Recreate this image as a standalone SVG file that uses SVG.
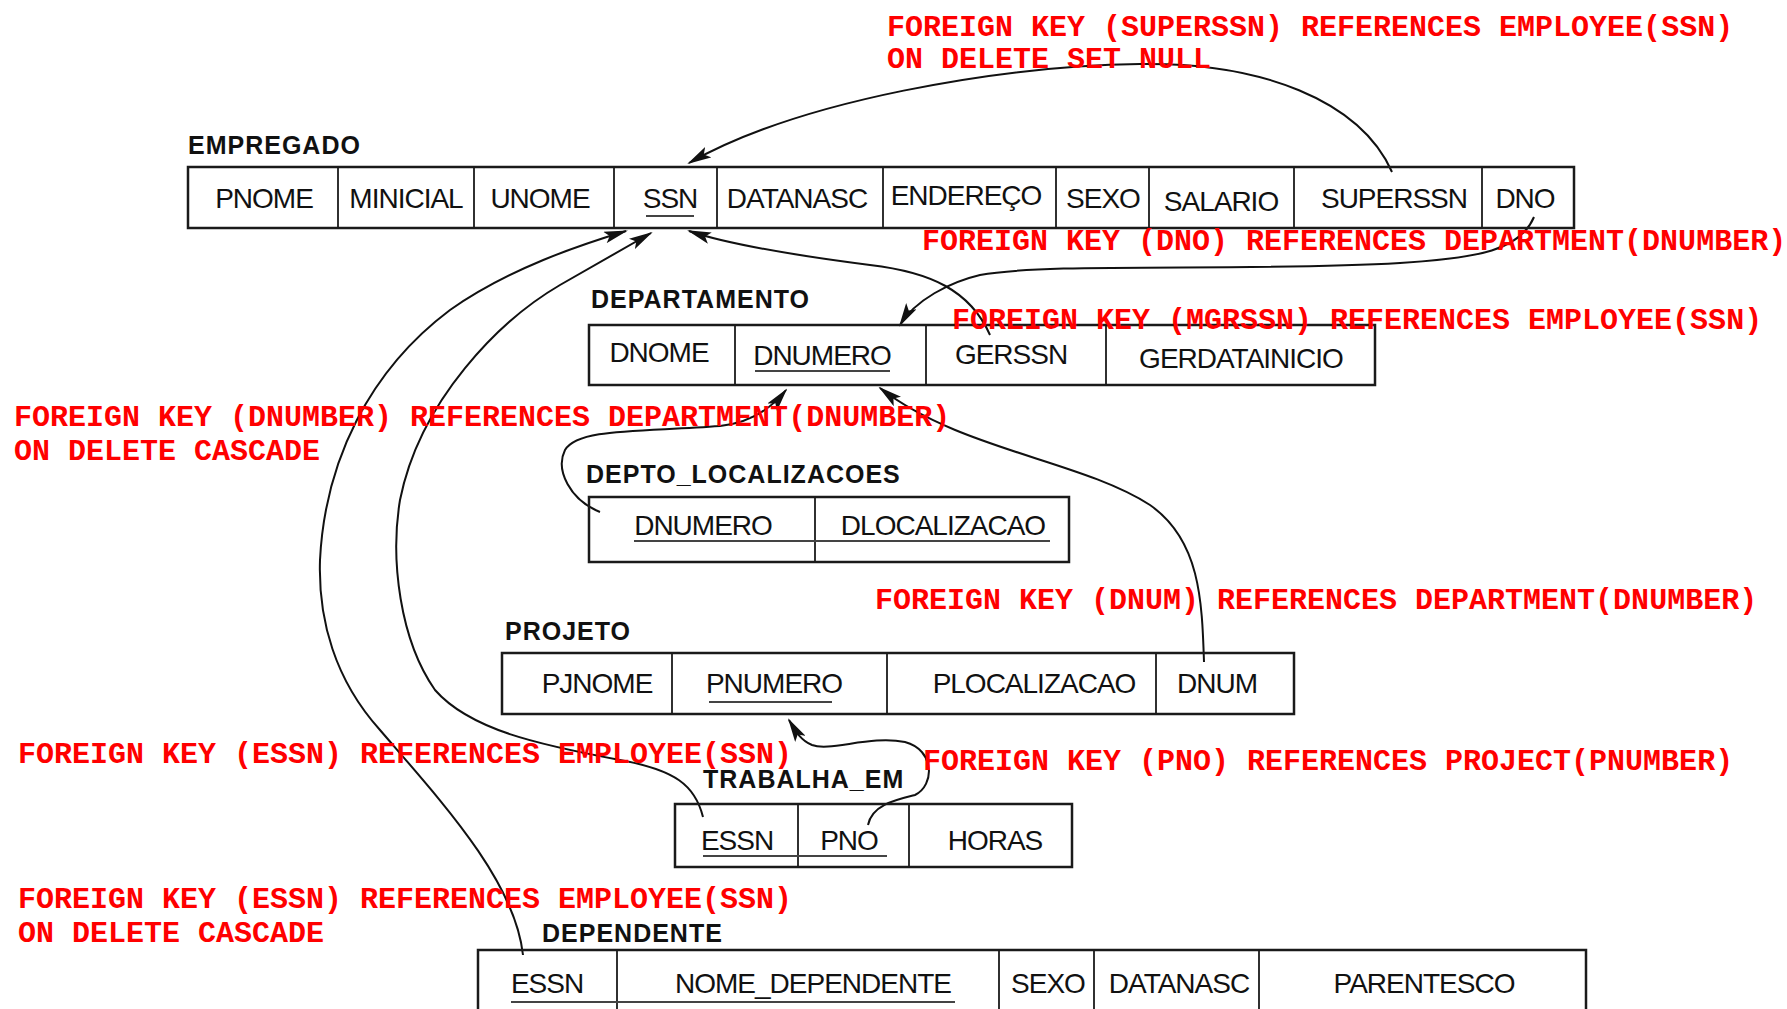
<svg xmlns="http://www.w3.org/2000/svg" width="1787" height="1009" viewBox="0 0 1787 1009">
<style>
.tb{fill:#fff;stroke:#1a1a1a;stroke-width:2.5}
.dv{stroke:#1a1a1a;stroke-width:1.8}
.ct{font-family:"Liberation Sans",Arial,sans-serif;font-size:28px;letter-spacing:-1px;fill:#111;text-anchor:middle}
.lb{font-family:"Liberation Sans",Arial,sans-serif;font-size:25px;font-weight:bold;letter-spacing:1px;fill:#111}
.ul{stroke:#444;stroke-width:2}
.fk{font-family:"Liberation Mono","Courier New",monospace;font-size:30px;font-weight:bold;fill:#ff0000}
.cn{fill:none;stroke:#111;stroke-width:2}
</style>
<defs>
<marker id="ah" markerWidth="24" markerHeight="12" refX="22" refY="6" orient="auto" markerUnits="userSpaceOnUse">
<path d="M0,0 L24,6 L0,12 L5,6 z" fill="#111"/>
</marker>
</defs>
<rect width="1787" height="1009" fill="#fff"/>

<g id="connectors">
<path class="cn" marker-end="url(#ah)" d="M1392,172 C1360,100 1260,62 1140,64 C1000,66 800,100 689,163"/>
<path class="cn" marker-end="url(#ah)" d="M1534,217 C1520,250 1480,258 1400,263 C1250,272 1050,262 980,275 C950,282 915,300 900,325"/>
<path class="cn" marker-end="url(#ah)" d="M990,335 C970,290 930,272 870,265 C800,256 730,245 689,231"/>
<path class="cn" marker-end="url(#ah)" d="M600,512 C570,500 555,470 565,450 C578,428 640,432 720,426 C750,423 770,410 786,390"/>
<path class="cn" marker-end="url(#ah)" d="M1204,662 C1202,600 1200,540 1150,505 C1080,460 960,450 880,388"/>
<path class="cn" marker-end="url(#ah)" d="M523,955 C515,880 440,800 380,730 C335,680 318,620 320,560 C325,460 370,370 450,310 C510,268 580,245 626,231"/>
<path class="cn" marker-end="url(#ah)" d="M703,817 C695,785 675,770 620,760 C540,745 470,730 435,690 C400,640 390,560 400,500 C420,400 500,320 560,285 C600,262 630,245 651,233"/>
<path class="cn" marker-end="url(#ah)" d="M868,825 C872,805 895,800 915,795 C935,785 935,750 905,742 C870,735 830,752 812,745 C800,740 795,730 789,720"/>
</g>

<g id="empregado">
<text class="lb" x="188" y="154">EMPREGADO</text>
<rect class="tb" x="188" y="167" width="1386" height="61" fill-opacity="0"/>
<line class="dv" x1="338" y1="167" x2="338" y2="228"/>
<line class="dv" x1="474" y1="167" x2="474" y2="228"/>
<line class="dv" x1="614" y1="167" x2="614" y2="228"/>
<line class="dv" x1="717" y1="167" x2="717" y2="228"/>
<line class="dv" x1="883" y1="167" x2="883" y2="228"/>
<line class="dv" x1="1056" y1="167" x2="1056" y2="228"/>
<line class="dv" x1="1149" y1="167" x2="1149" y2="228"/>
<line class="dv" x1="1294" y1="167" x2="1294" y2="228"/>
<line class="dv" x1="1482" y1="167" x2="1482" y2="228"/>
<text class="ct" x="264" y="208">PNOME</text>
<text class="ct" x="406" y="208">MINICIAL</text>
<text class="ct" x="540" y="208">UNOME</text>
<text class="ct" x="670" y="208">SSN</text>
<line class="ul" x1="646" y1="216" x2="694" y2="216"/>
<text class="ct" x="797" y="208">DATANASC</text>
<text class="ct" x="966" y="205">ENDEREÇO</text>
<text class="ct" x="1103" y="208">SEXO</text>
<text class="ct" x="1221" y="211">SALARIO</text>
<text class="ct" x="1394" y="208">SUPERSSN</text>
<text class="ct" x="1525" y="208">DNO</text>
</g>

<g id="departamento">
<text class="lb" x="591" y="308">DEPARTAMENTO</text>
<rect class="tb" x="589" y="325" width="786" height="60" fill-opacity="0"/>
<line class="dv" x1="735" y1="325" x2="735" y2="385"/>
<line class="dv" x1="926" y1="325" x2="926" y2="385"/>
<line class="dv" x1="1106" y1="325" x2="1106" y2="385"/>
<text class="ct" x="659" y="362">DNOME</text>
<text class="ct" x="822" y="365">DNUMERO</text>
<line class="ul" x1="755" y1="371" x2="890" y2="371"/>
<text class="ct" x="1011" y="364">GERSSN</text>
<text class="ct" x="1241" y="368">GERDATAINICIO</text>
</g>

<g id="depto_localizacoes">
<text class="lb" x="586" y="483">DEPTO_LOCALIZACOES</text>
<rect class="tb" x="589" y="497" width="480" height="65" fill-opacity="0"/>
<line class="dv" x1="815" y1="497" x2="815" y2="562"/>
<text class="ct" x="703" y="535">DNUMERO</text>
<text class="ct" x="943" y="535">DLOCALIZACAO</text>
<line class="ul" x1="634" y1="541" x2="1050" y2="541"/>
</g>

<g id="projeto">
<text class="lb" x="505" y="640">PROJETO</text>
<rect class="tb" x="502" y="653" width="792" height="61" fill-opacity="0"/>
<line class="dv" x1="672" y1="653" x2="672" y2="714"/>
<line class="dv" x1="887" y1="653" x2="887" y2="714"/>
<line class="dv" x1="1156" y1="653" x2="1156" y2="714"/>
<text class="ct" x="597" y="693">PJNOME</text>
<text class="ct" x="774" y="693">PNUMERO</text>
<line class="ul" x1="709" y1="702" x2="832" y2="702"/>
<text class="ct" x="1034" y="693">PLOCALIZACAO</text>
<text class="ct" x="1217" y="693">DNUM</text>
</g>

<g id="trabalha_em">
<text class="lb" x="703" y="788">TRABALHA_EM</text>
<rect class="tb" x="675" y="804" width="397" height="63" fill-opacity="0"/>
<line class="dv" x1="798" y1="804" x2="798" y2="867"/>
<line class="dv" x1="909" y1="804" x2="909" y2="867"/>
<text class="ct" x="737" y="850">ESSN</text>
<text class="ct" x="849" y="850">PNO</text>
<line class="ul" x1="703" y1="856" x2="887" y2="856"/>
<text class="ct" x="995" y="850">HORAS</text>
</g>

<g id="dependente">
<text class="lb" x="542" y="942">DEPENDENTE</text>
<rect class="tb" x="478" y="950" width="1108" height="90" fill-opacity="0"/>
<line class="dv" x1="617" y1="950" x2="617" y2="1009"/>
<line class="dv" x1="999" y1="950" x2="999" y2="1009"/>
<line class="dv" x1="1094" y1="950" x2="1094" y2="1009"/>
<line class="dv" x1="1259" y1="950" x2="1259" y2="1009"/>
<text class="ct" x="547" y="993">ESSN</text>
<text class="ct" x="813" y="993">NOME_DEPENDENTE</text>
<line class="ul" x1="511" y1="1002" x2="955" y2="1002"/>
<text class="ct" x="1048" y="993">SEXO</text>
<text class="ct" x="1179" y="993">DATANASC</text>
<text class="ct" x="1424" y="993">PARENTESCO</text>
</g>

<g id="constraints">
<text class="fk" x="887" y="36">FOREIGN KEY (SUPERSSN) REFERENCES EMPLOYEE(SSN)</text>
<text class="fk" x="887" y="68">ON DELETE SET NULL</text>
<text class="fk" x="922" y="250">FOREIGN KEY (DNO) REFERENCES DEPARTMENT(DNUMBER)</text>
<text class="fk" x="952" y="329">FOREIGN KEY (MGRSSN) REFERENCES EMPLOYEE(SSN)</text>
<text class="fk" x="14" y="426">FOREIGN KEY (DNUMBER) REFERENCES DEPARTMENT(DNUMBER)</text>
<text class="fk" x="14" y="460">ON DELETE CASCADE</text>
<text class="fk" x="875" y="609">FOREIGN KEY (DNUM) REFERENCES DEPARTMENT(DNUMBER)</text>
<text class="fk" x="18" y="763">FOREIGN KEY (ESSN) REFERENCES EMPLOYEE(SSN)</text>
<text class="fk" x="923" y="770">FOREIGN KEY (PNO) REFERENCES PROJECT(PNUMBER)</text>
<text class="fk" x="18" y="908">FOREIGN KEY (ESSN) REFERENCES EMPLOYEE(SSN)</text>
<text class="fk" x="18" y="942">ON DELETE CASCADE</text>
</g>
</svg>
